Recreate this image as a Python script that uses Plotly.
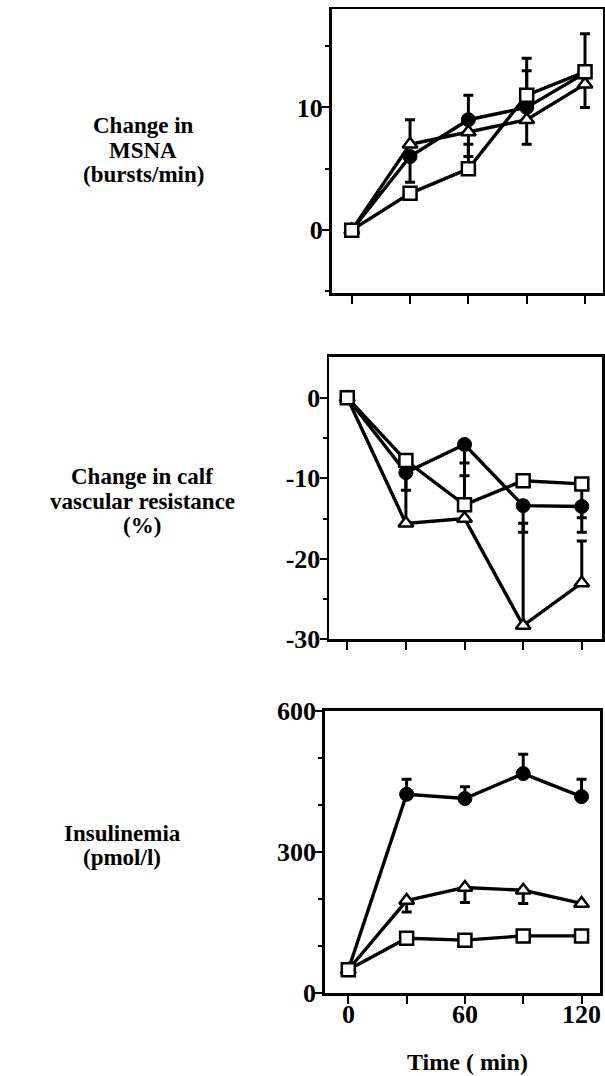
import plotly.graph_objects as go

# ---------------- data ----------------
time_min = [0, 30, 60, 90, 120]

# Panel 1: Change in MSNA (bursts/min)
msna_circle = [0, 6, 9, 10, 12.8]
msna_triangle = [0, 7, 8, 9, 11.9]
msna_square = [0, 3, 5, 11, 12.9]
msna_circle_plus = [0, 0, 2, 3, 0]
msna_circle_minus = [0, 2.1, 0, 0, 0]
msna_triangle_plus = [0, 2, 0, 0, 0]
msna_triangle_minus = [0, 0, 2, 2, 1.9]
msna_square_plus = [0, 0, 2, 3, 3.1]
msna_square_minus = [0, 0, 0, 0, 0]

# Panel 2: Change in calf vascular resistance (%)
cvr_circle = [0, -9.3, -5.8, -13.4, -13.5]
cvr_triangle = [0, -15.6, -15.0, -28.3, -23.0]
cvr_square = [0, -7.8, -13.3, -10.3, -10.7]
cvr_circle_plus = [0, 0, 0, 0, 0]
cvr_circle_minus = [0, 2.2, 3.9, 3.3, 3.2]
cvr_triangle_plus = [0, 6.0, 0, 12.7, 5.2]
cvr_triangle_minus = [0, 0, 0, 0, 0]
cvr_square_plus = [0, 0, 5.2, 0, 0]
cvr_square_minus = [0, 0, 0, 0, 4.2]

# Panel 3: Insulinemia (pmol/l)
ins_circle = [50, 423, 414, 467, 418]
ins_triangle = [50, 197, 225, 219, 191]
ins_square = [50, 117, 113, 122, 122]
ins_circle_plus = [0, 32, 25, 41, 37]
ins_triangle_minus = [0, 24, 32, 28, 0]

# tick labels
x_tickvals = [0, 30, 60, 90, 120]
x_label_vals = [0, 60, 120]
x_label_text = ["0", "60", "120"]
y1_tickvals = [0, 10]
y1_ticktext = ["0", "10"]
y2_tickvals = [0, -10, -20, -30]
y2_ticktext = ["0", "-10", "-20", "-30"]
y3_tickvals = [0, 300, 600]
y3_ticktext = ["0", "300", "600"]

# ---------------- styling ----------------
W, H = 605, 1076
FONT = "Liberation Serif"
LINE_W = 3.4
ERR_T = 3
ERR_W = 5

styles = {
    "circle": dict(symbol="circle", size=14, color="black", line=dict(color="black", width=1)),
    "triangle": dict(symbol="triangle-up", size=13, color="white", line=dict(color="black", width=2.5)),
    "square": dict(symbol="square", size=13, color="white", line=dict(color="black", width=2.5)),
}


def err(plus, minus):
    return dict(type="data", symmetric=False, array=plus, arrayminus=minus,
                color="black", thickness=ERR_T, width=ERR_W)


fig = go.Figure()


def add(y, kind, xa, ya, plus, minus):
    fig.add_trace(go.Scatter(
        x=time_min, y=y, mode="lines+markers",
        line=dict(color="black", width=LINE_W),
        marker=styles[kind],
        error_y=err(plus, minus),
        xaxis=xa, yaxis=ya, showlegend=False, cliponaxis=False,
    ))


zeros = [0, 0, 0, 0, 0]
# Panel 1
add(msna_circle, "circle", "x", "y", msna_circle_plus, msna_circle_minus)
add(msna_triangle, "triangle", "x", "y", msna_triangle_plus, msna_triangle_minus)
add(msna_square, "square", "x", "y", msna_square_plus, msna_square_minus)
# Panel 2
add(cvr_circle, "circle", "x2", "y2", cvr_circle_plus, cvr_circle_minus)
add(cvr_triangle, "triangle", "x2", "y2", cvr_triangle_plus, cvr_triangle_minus)
add(cvr_square, "square", "x2", "y2", cvr_square_plus, cvr_square_minus)
# Panel 3
add(ins_circle, "circle", "x3", "y3", ins_circle_plus, zeros)
add(ins_triangle, "triangle", "x3", "y3", zeros, ins_triangle_minus)
add(ins_square, "square", "x3", "y3", zeros, zeros)


def px_x(px):
    return px / W


def px_y(px):
    return 1 - px / H


tickfont = dict(family=FONT, size=26, color="black", weight="bold")

common_axis = dict(showline=True, mirror=True, linecolor="black", linewidth=2.8,
                   showgrid=False, zeroline=False, ticks="outside", tickcolor="black",
                   tickwidth=2, automargin=False, fixedrange=True)

layout_axes = {}
panels = [
    ((331.7, 603.3), (9.3, 292.7), [-10.3, 129.4], [-5.1, 18.0], y1_tickvals, y1_ticktext, [-5, 5, 15]),
    ((329.3, 601.7), (356.7, 639.3), [-9.2, 130.2], [-30, 5.1], y2_tickvals, y2_ticktext, [-5, -15, -25]),
    ((325.0, 600.0), (711.0, 993.3), [-12.0, 129.5], [0, 600], y3_tickvals, y3_ticktext, [100, 200, 400, 500]),
]
for i, (xd, yd, xr, yr, ytv, ytt, ymin) in enumerate(panels, start=1):
    sx = "" if i == 1 else str(i)
    layout_axes["xaxis" + sx] = dict(
        common_axis, domain=[px_x(xd[0]), px_x(xd[1])], range=xr,
        anchor="y" + sx, tickvals=x_tickvals, showticklabels=False, ticklen=8,
    )
    layout_axes["yaxis" + sx] = dict(
        common_axis, domain=[px_y(yd[1]), px_y(yd[0])], range=yr,
        anchor="x" + sx, tickvals=ytv, ticktext=ytt, ticklen=7, tickfont=tickfont,
        ticklabelstandoff=-6,
        minor=dict(tickvals=ymin, ticks="outside", ticklen=4, tickcolor="black", tickwidth=2),
    )

# ---------------- text labels ----------------
label_font = dict(family=FONT, size=23, color="black", weight="bold")
label_lines = [
    ("Change in", 143, 126), ("MSNA", 143, 150), ("(bursts/min)", 143, 174),
    ("Change in calf", 142, 477), ("vascular resistance", 142, 501), ("(%)", 142, 525),
    ("Insulinemia", 122, 833), ("(pmol/l)", 122, 857),
]
annotations = []
for txt, cx, cy in label_lines:
    annotations.append(dict(text=txt, x=px_x(cx), y=px_y(cy), xref="paper", yref="paper",
                            xanchor="center", yanchor="middle", showarrow=False, font=label_font))
# bottom x tick labels, placed through the bottom panel's x scale
for v, t in zip(x_label_vals, x_label_text):
    annotations.append(dict(text=t, x=v, y=px_y(1014), xref="x3", yref="paper",
                            xanchor="center", yanchor="middle", showarrow=False, font=tickfont))
annotations.append(dict(text="Time ( min)", x=px_x(467), y=px_y(1062), xref="paper", yref="paper",
                        xanchor="center", yanchor="middle", showarrow=False,
                        font=dict(family=FONT, size=24, color="black", weight="bold")))

fig.update_layout(
    width=W, height=H,
    margin=dict(l=0, r=0, t=0, b=0, pad=0),
    paper_bgcolor="white", plot_bgcolor="white",
    annotations=annotations,
    **layout_axes,
)

fig.write_html(
    "out.html",
    config={"displayModeBar": False, "staticPlot": True},
    post_script="document.body.style.margin='0';document.body.style.padding='0';"
                "document.body.style.overflow='hidden';"
                "document.documentElement.style.overflow='hidden';",
)
